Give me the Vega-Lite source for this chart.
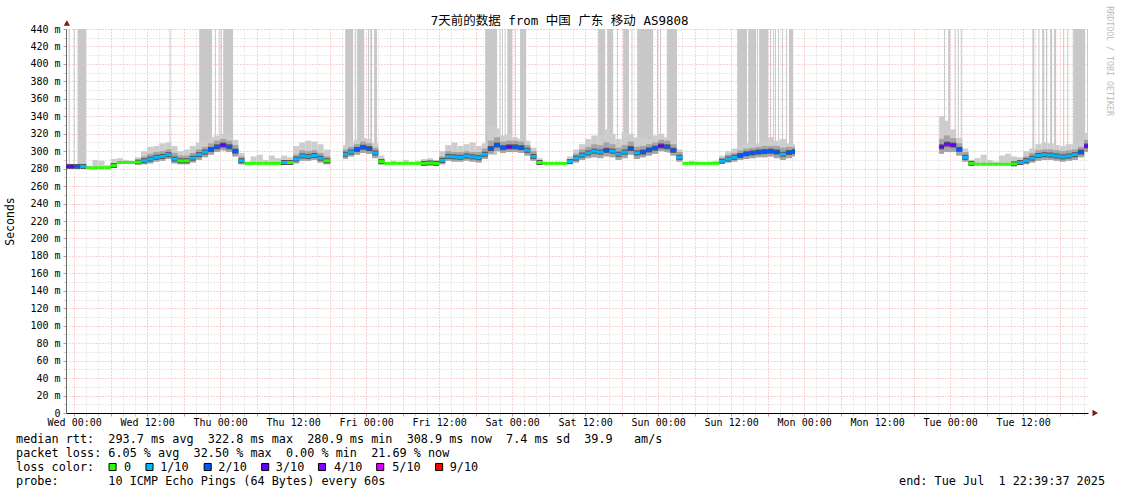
{
  "$schema": "https://vega.github.io/schema/vega-lite/v6.json",
  "background": "white",
  "padding": {"left": 4, "top": 6, "right": 2, "bottom": 2},
  "config": {
    "view": {"stroke": null},
    "font": "DejaVu Sans Mono"
  },
  "title": {"text": "7天前的数据 from 中国 广东 移动 AS9808", "font": "DejaVu Sans Mono, Noto Sans CJK SC", "fontSize": 12.5, "fontWeight": "normal", "color": "#000000", "anchor": "middle", "offset": -21},
  "spacing": 7,
  "datasets": {
    "hourly": [
      {"h":-2,"h2":-1,"med":282.5,"loss":"3/10","lo":281,"hi":284,"mx":285},
      {"h":-1,"h2":0,"med":282.5,"loss":"3/10","lo":281,"hi":284,"mx":285},
      {"h":0,"h2":1,"med":282.5,"loss":"2/10","lo":281,"hi":284,"mx":285},
      {"h":1,"h2":2,"med":282.5,"loss":"1/10","lo":281,"hi":284,"mx":286},
      {"h":2,"h2":3,"med":281,"loss":"0","lo":281,"hi":281,"mx":283},
      {"h":3,"h2":4,"med":281,"loss":"0","lo":281,"hi":281,"mx":290},
      {"h":4,"h2":5,"med":281,"loss":"0","lo":281,"hi":281,"mx":289},
      {"h":5,"h2":6,"med":281,"loss":"0","lo":281,"hi":281,"mx":284},
      {"h":6,"h2":7,"med":283.5,"loss":"0","lo":281,"hi":286,"mx":291},
      {"h":7,"h2":8,"med":287,"loss":"0","lo":287,"hi":287,"mx":292},
      {"h":8,"h2":9,"med":287,"loss":"0","lo":287,"hi":287,"mx":290},
      {"h":9,"h2":10,"med":287,"loss":"0","lo":287,"hi":287,"mx":289},
      {"h":10,"h2":11,"med":287.5,"loss":"0","lo":286,"hi":289,"mx":293},
      {"h":11,"h2":12,"med":289,"loss":"1/10","lo":285,"hi":294,"mx":300},
      {"h":12,"h2":13,"med":291,"loss":"1/10","lo":286,"hi":297,"mx":305},
      {"h":13,"h2":14,"med":293,"loss":"1/10","lo":288,"hi":299,"mx":306},
      {"h":14,"h2":15,"med":294,"loss":"1/10","lo":289,"hi":300,"mx":309},
      {"h":15,"h2":16,"med":296,"loss":"1/10","lo":291,"hi":302,"mx":310},
      {"h":16,"h2":17,"med":291,"loss":"1/10","lo":286,"hi":298,"mx":306},
      {"h":17,"h2":18,"med":289,"loss":"0","lo":285,"hi":295,"mx":300},
      {"h":18,"h2":19,"med":289,"loss":"0","lo":285,"hi":295,"mx":302},
      {"h":19,"h2":20,"med":292,"loss":"1/10","lo":287,"hi":298,"mx":306},
      {"h":20,"h2":21,"med":296,"loss":"1/10","lo":290,"hi":302,"mx":310},
      {"h":21,"h2":22,"med":299,"loss":"1/10","lo":293,"hi":305,"mx":312},
      {"h":22,"h2":23,"med":302,"loss":"2/10","lo":296,"hi":309,"mx":316},
      {"h":23,"h2":24,"med":305,"loss":"2/10","lo":299,"hi":312,"mx":318},
      {"h":24,"h2":25,"med":307,"loss":"3/10","lo":301,"hi":314,"mx":320},
      {"h":25,"h2":26,"med":305,"loss":"2/10","lo":299,"hi":312,"mx":318},
      {"h":26,"h2":27,"med":300,"loss":"2/10","lo":294,"hi":307,"mx":313},
      {"h":27,"h2":28,"med":289,"loss":"1/10","lo":285,"hi":294,"mx":298},
      {"h":28,"h2":29,"med":286,"loss":"0","lo":286,"hi":286,"mx":288},
      {"h":29,"h2":30,"med":286,"loss":"0","lo":286,"hi":286,"mx":294},
      {"h":30,"h2":31,"med":286,"loss":"0","lo":286,"hi":286,"mx":296},
      {"h":31,"h2":32,"med":286,"loss":"0","lo":286,"hi":286,"mx":290},
      {"h":32,"h2":33,"med":286,"loss":"0","lo":286,"hi":286,"mx":295},
      {"h":33,"h2":34,"med":286,"loss":"0","lo":286,"hi":286,"mx":292},
      {"h":34,"h2":35,"med":287,"loss":"1/10","lo":286,"hi":288,"mx":295},
      {"h":35,"h2":36,"med":287,"loss":"0","lo":286,"hi":287,"mx":293},
      {"h":36,"h2":37,"med":291,"loss":"1/10","lo":286,"hi":296,"mx":306},
      {"h":37,"h2":38,"med":294.5,"loss":"1/10","lo":289,"hi":301,"mx":310},
      {"h":38,"h2":39,"med":294,"loss":"1/10","lo":289,"hi":300,"mx":312},
      {"h":39,"h2":40,"med":295,"loss":"1/10","lo":290,"hi":301,"mx":311},
      {"h":40,"h2":41,"med":292,"loss":"1/10","lo":287,"hi":298,"mx":308},
      {"h":41,"h2":42.1,"med":289,"loss":"0","lo":285,"hi":294,"mx":302},
      {"h":44.2,"h2":45,"med":296.5,"loss":"1/10","lo":291,"hi":302,"mx":307},
      {"h":45,"h2":46,"med":299,"loss":"1/10","lo":294,"hi":305,"mx":310},
      {"h":46,"h2":47,"med":302,"loss":"2/10","lo":296,"hi":308,"mx":313},
      {"h":47,"h2":48,"med":304.5,"loss":"2/10","lo":298,"hi":311,"mx":315},
      {"h":48,"h2":49,"med":303,"loss":"2/10","lo":297,"hi":309,"mx":314},
      {"h":49,"h2":50,"med":298,"loss":"1/10","lo":292,"hi":304,"mx":309},
      {"h":50,"h2":51,"med":288,"loss":"0","lo":285,"hi":291,"mx":295},
      {"h":51,"h2":52,"med":286,"loss":"0","lo":286,"hi":286,"mx":287},
      {"h":52,"h2":53,"med":286,"loss":"0","lo":286,"hi":286,"mx":289},
      {"h":53,"h2":54,"med":286,"loss":"0","lo":286,"hi":286,"mx":288},
      {"h":54,"h2":55,"med":286,"loss":"0","lo":286,"hi":286,"mx":290},
      {"h":55,"h2":56,"med":286,"loss":"0","lo":286,"hi":286,"mx":287},
      {"h":56,"h2":57,"med":286,"loss":"0","lo":286,"hi":286,"mx":289},
      {"h":57,"h2":58,"med":286,"loss":"0","lo":286,"hi":287,"mx":291},
      {"h":58,"h2":59,"med":286.5,"loss":"0","lo":286,"hi":288,"mx":292},
      {"h":59,"h2":60,"med":286,"loss":"0","lo":286,"hi":287,"mx":290},
      {"h":60,"h2":61,"med":289.5,"loss":"1/10","lo":285,"hi":294,"mx":300},
      {"h":61,"h2":62,"med":294,"loss":"1/10","lo":289,"hi":300,"mx":307},
      {"h":62,"h2":63,"med":293.5,"loss":"1/10","lo":288,"hi":299,"mx":310},
      {"h":63,"h2":64,"med":293,"loss":"1/10","lo":288,"hi":299,"mx":306},
      {"h":64,"h2":65,"med":294.5,"loss":"1/10","lo":289,"hi":300,"mx":308},
      {"h":65,"h2":66,"med":293.5,"loss":"1/10","lo":288,"hi":299,"mx":310},
      {"h":66,"h2":67,"med":292.5,"loss":"1/10","lo":287,"hi":299,"mx":306},
      {"h":67,"h2":68,"med":296.5,"loss":"1/10","lo":291,"hi":303,"mx":309},
      {"h":68,"h2":69,"med":303,"loss":"2/10","lo":297,"hi":312,"mx":328},
      {"h":69,"h2":70,"med":307,"loss":"2/10","lo":300,"hi":316,"mx":326},
      {"h":70,"h2":71,"med":304,"loss":"2/10","lo":298,"hi":311,"mx":318},
      {"h":71,"h2":72,"med":305,"loss":"3/10","lo":299,"hi":312,"mx":319},
      {"h":72,"h2":73,"med":305,"loss":"2/10","lo":299,"hi":312,"mx":316},
      {"h":73,"h2":74,"med":304,"loss":"2/10","lo":298,"hi":311,"mx":314},
      {"h":74,"h2":75,"med":301,"loss":"1/10","lo":295,"hi":307,"mx":312},
      {"h":75,"h2":76,"med":294,"loss":"1/10","lo":289,"hi":300,"mx":304},
      {"h":76,"h2":77,"med":287,"loss":"0","lo":286,"hi":289,"mx":292},
      {"h":77,"h2":78,"med":286,"loss":"0","lo":286,"hi":286,"mx":288},
      {"h":78,"h2":79,"med":286,"loss":"0","lo":286,"hi":286,"mx":287},
      {"h":79,"h2":80,"med":286,"loss":"0","lo":286,"hi":286,"mx":288},
      {"h":80,"h2":81,"med":286,"loss":"0","lo":286,"hi":286,"mx":287},
      {"h":81,"h2":82,"med":288,"loss":"1/10","lo":286,"hi":291,"mx":294},
      {"h":82,"h2":83,"med":292,"loss":"1/10","lo":287,"hi":297,"mx":302},
      {"h":83,"h2":84,"med":295.5,"loss":"1/10","lo":290,"hi":302,"mx":308},
      {"h":84,"h2":85,"med":298,"loss":"1/10","lo":292,"hi":305,"mx":314},
      {"h":85,"h2":86,"med":300,"loss":"1/10","lo":293,"hi":308,"mx":318},
      {"h":86,"h2":87,"med":299,"loss":"1/10","lo":292,"hi":307,"mx":318},
      {"h":87,"h2":88,"med":301,"loss":"2/10","lo":294,"hi":310,"mx":325},
      {"h":88,"h2":89,"med":300,"loss":"1/10","lo":293,"hi":308,"mx":320},
      {"h":89,"h2":90,"med":296.5,"loss":"1/10","lo":290,"hi":304,"mx":314},
      {"h":90,"h2":91,"med":299,"loss":"1/10","lo":292,"hi":307,"mx":322},
      {"h":91,"h2":92,"med":303,"loss":"2/10","lo":296,"hi":311,"mx":320},
      {"h":92,"h2":93,"med":298,"loss":"1/10","lo":291,"hi":305,"mx":316},
      {"h":93,"h2":94,"med":299,"loss":"2/10","lo":293,"hi":306,"mx":316},
      {"h":94,"h2":95,"med":301.5,"loss":"2/10","lo":295,"hi":308,"mx":314},
      {"h":95,"h2":96,"med":303.5,"loss":"2/10","lo":297,"hi":310,"mx":318},
      {"h":96,"h2":97,"med":306,"loss":"3/10","lo":300,"hi":313,"mx":320},
      {"h":97,"h2":98,"med":305,"loss":"2/10","lo":299,"hi":312,"mx":316},
      {"h":98,"h2":99,"med":301,"loss":"2/10","lo":295,"hi":308,"mx":312},
      {"h":99,"h2":100,"med":293,"loss":"1/10","lo":288,"hi":299,"mx":302},
      {"h":100,"h2":101,"med":286,"loss":"0","lo":286,"hi":286,"mx":287},
      {"h":101,"h2":102,"med":286,"loss":"0","lo":286,"hi":286,"mx":289},
      {"h":102,"h2":103,"med":286,"loss":"0","lo":286,"hi":286,"mx":288},
      {"h":103,"h2":104,"med":286,"loss":"0","lo":286,"hi":286,"mx":287},
      {"h":104,"h2":105,"med":286,"loss":"0","lo":286,"hi":286,"mx":288},
      {"h":105,"h2":106,"med":286,"loss":"0","lo":286,"hi":286,"mx":289},
      {"h":106,"h2":107,"med":288.5,"loss":"1/10","lo":286,"hi":292,"mx":295},
      {"h":107,"h2":108,"med":291,"loss":"1/10","lo":287,"hi":296,"mx":300},
      {"h":108,"h2":109,"med":293,"loss":"1/10","lo":288,"hi":298,"mx":303},
      {"h":109,"h2":110,"med":295,"loss":"2/10","lo":290,"hi":301,"mx":306},
      {"h":110,"h2":111,"med":297,"loss":"2/10","lo":291,"hi":303,"mx":309},
      {"h":111,"h2":112,"med":298,"loss":"2/10","lo":292,"hi":304,"mx":308},
      {"h":112,"h2":113,"med":299,"loss":"2/10","lo":293,"hi":305,"mx":309},
      {"h":113,"h2":114,"med":299.5,"loss":"2/10","lo":293,"hi":306,"mx":312},
      {"h":114,"h2":115,"med":300,"loss":"2/10","lo":294,"hi":306,"mx":316},
      {"h":115,"h2":116,"med":299,"loss":"2/10","lo":292,"hi":306,"mx":312},
      {"h":116,"h2":117,"med":296.5,"loss":"1/10","lo":290,"hi":304,"mx":314},
      {"h":117,"h2":118,"med":298.5,"loss":"2/10","lo":292,"hi":305,"mx":309},
      {"h":118,"h2":118.5,"med":299.5,"loss":"2/10","lo":294,"hi":305,"mx":308},
      {"h":142.2,"h2":143,"med":305,"loss":"3/10","lo":297,"hi":314,"mx":340},
      {"h":143,"h2":144,"med":308,"loss":"4/10","lo":299,"hi":318,"mx":335},
      {"h":144,"h2":145,"med":307,"loss":"3/10","lo":299,"hi":315,"mx":325},
      {"h":145,"h2":146,"med":302,"loss":"2/10","lo":295,"hi":309,"mx":315},
      {"h":146,"h2":147,"med":293,"loss":"1/10","lo":288,"hi":299,"mx":303},
      {"h":147,"h2":148,"med":286,"loss":"0","lo":285,"hi":287,"mx":290},
      {"h":148,"h2":149,"med":285,"loss":"0","lo":285,"hi":285,"mx":292},
      {"h":149,"h2":150,"med":285,"loss":"0","lo":285,"hi":285,"mx":296},
      {"h":150,"h2":151,"med":285,"loss":"0","lo":285,"hi":285,"mx":290},
      {"h":151,"h2":152,"med":285,"loss":"0","lo":285,"hi":285,"mx":288},
      {"h":152,"h2":153,"med":285,"loss":"0","lo":285,"hi":285,"mx":295},
      {"h":153,"h2":154,"med":285,"loss":"0","lo":285,"hi":285,"mx":297},
      {"h":154,"h2":155,"med":285.5,"loss":"0","lo":285,"hi":286,"mx":294},
      {"h":155,"h2":156,"med":287,"loss":"1/10","lo":285,"hi":290,"mx":293},
      {"h":156,"h2":157,"med":289,"loss":"1/10","lo":285,"hi":294,"mx":300},
      {"h":157,"h2":158,"med":292,"loss":"1/10","lo":287,"hi":298,"mx":303},
      {"h":158,"h2":159,"med":295,"loss":"1/10","lo":289,"hi":301,"mx":308},
      {"h":159,"h2":160,"med":296,"loss":"1/10","lo":290,"hi":302,"mx":310},
      {"h":160,"h2":161,"med":295.5,"loss":"1/10","lo":290,"hi":302,"mx":309},
      {"h":161,"h2":162,"med":294.5,"loss":"1/10","lo":289,"hi":301,"mx":307},
      {"h":162,"h2":163,"med":293.5,"loss":"1/10","lo":288,"hi":300,"mx":306},
      {"h":163,"h2":164,"med":294.5,"loss":"1/10","lo":289,"hi":301,"mx":308},
      {"h":164,"h2":165,"med":296,"loss":"1/10","lo":290,"hi":302,"mx":308},
      {"h":165,"h2":166,"med":299,"loss":"2/10","lo":293,"hi":305,"mx":310},
      {"h":166,"h2":166.66,"med":306,"loss":"3/10","lo":299,"hi":313,"mx":321}
    ],
    "tall": [
      {"s":-0.9,"e":-0.73,"lo":282},
      {"s":-0.08,"e":0.08,"lo":282},
      {"s":0.55,"e":1.97,"lo":282},
      {"s":15.67,"e":15.83,"lo":293},
      {"s":20.55,"e":22.68,"lo":298},
      {"s":23.13,"e":23.3,"lo":304},
      {"s":23.75,"e":23.92,"lo":305},
      {"s":24.12,"e":24.28,"lo":306},
      {"s":24.5,"e":26.13,"lo":300},
      {"s":44.55,"e":45.87,"lo":298},
      {"s":46.2,"e":46.37,"lo":302},
      {"s":46.52,"e":47.68,"lo":302},
      {"s":48.3,"e":48.47,"lo":302},
      {"s":48.67,"e":48.98,"lo":300},
      {"s":49.3,"e":49.8,"lo":296},
      {"s":67.57,"e":69.53,"lo":296},
      {"s":69.92,"e":70.08,"lo":302},
      {"s":70.32,"e":70.48,"lo":302},
      {"s":70.77,"e":70.93,"lo":302},
      {"s":71.2,"e":72,"lo":302},
      {"s":72.42,"e":72.58,"lo":302},
      {"s":73.3,"e":74.3,"lo":300},
      {"s":86.13,"e":87.3,"lo":298},
      {"s":87.62,"e":88.6,"lo":298},
      {"s":89.22,"e":89.38,"lo":296},
      {"s":90.25,"e":91.2,"lo":298},
      {"s":91.62,"e":91.78,"lo":298},
      {"s":92.55,"e":95.18,"lo":298},
      {"s":95.8,"e":95.97,"lo":302},
      {"s":96.3,"e":96.47,"lo":304},
      {"s":97.43,"e":99.1,"lo":298},
      {"s":108.98,"e":110.6,"lo":293},
      {"s":110.8,"e":112.12,"lo":295},
      {"s":112.27,"e":112.43,"lo":297},
      {"s":112.6,"e":114.08,"lo":297},
      {"s":114.4,"e":114.57,"lo":297},
      {"s":114.9,"e":115.07,"lo":297},
      {"s":115.22,"e":115.38,"lo":296},
      {"s":115.7,"e":115.87,"lo":296},
      {"s":116.37,"e":116.53,"lo":295},
      {"s":117,"e":117.17,"lo":296},
      {"s":117.5,"e":118.2,"lo":297},
      {"s":143,"e":143.17,"lo":304},
      {"s":143.67,"e":144,"lo":304},
      {"s":144.75,"e":144.92,"lo":304},
      {"s":145.25,"e":145.42,"lo":300},
      {"s":145.75,"e":145.92,"lo":298},
      {"s":157.52,"e":157.83,"lo":290},
      {"s":158.5,"e":158.67,"lo":293},
      {"s":159.13,"e":159.47,"lo":294},
      {"s":159.75,"e":159.92,"lo":294},
      {"s":160.43,"e":160.77,"lo":293},
      {"s":161.08,"e":161.42,"lo":292},
      {"s":162.58,"e":162.75,"lo":292},
      {"s":163.25,"e":163.42,"lo":293},
      {"s":164.22,"e":166.2,"lo":294},
      {"s":166.5,"e":166.65,"lo":300}
    ],
    "arrowx": [{"h":167.85,"v":0}],
    "arrowy": [{"h":-1.2,"v":447}],
    "lines": [
      {"line":1,"col":0,"text":"median rtt:\u00a0\u00a0293.7 ms avg\u00a0\u00a0322.8 ms max\u00a0\u00a0280.9 ms min\u00a0\u00a0308.9 ms now\u00a0\u00a07.4 ms sd\u00a0\u00a039.9\u00a0\u00a0\u00a0am/s"},
      {"line":2,"col":0,"text":"packet loss: 6.05 % avg\u00a0\u00a032.50 % max\u00a0\u00a00.00 % min\u00a0\u00a021.69 % now"},
      {"line":3,"col":0,"text":"loss color:"},
      {"line":3,"col":15.2,"text":"0"},
      {"line":3,"col":20.3,"text":"1/10"},
      {"line":3,"col":28.5,"text":"2/10"},
      {"line":3,"col":36.6,"text":"3/10"},
      {"line":3,"col":44.8,"text":"4/10"},
      {"line":3,"col":53.0,"text":"5/10"},
      {"line":3,"col":61.1,"text":"9/10"},
      {"line":4,"col":0,"text":"probe:\u00a0\u00a0\u00a0\u00a0\u00a0\u00a0\u00a010 ICMP Echo Pings (64 Bytes) every 60s"}
    ],
    "endline": [
      {"line":4,"col":153.4,"text":"end: Tue Jul\u00a0\u00a01 22:39:37 2025"}
    ],
    "swatch": [
      {"line":3,"col":13.6,"loss":"0"},
      {"line":3,"col":18.8,"loss":"1/10"},
      {"line":3,"col":27.0,"loss":"2/10"},
      {"line":3,"col":35.1,"loss":"3/10"},
      {"line":3,"col":43.1,"loss":"4/10"},
      {"line":3,"col":51.3,"loss":"5/10"},
      {"line":3,"col":59.6,"loss":"9/10"}
    ]
  },
  "vconcat": [
    {
      "width": 1022,
      "height": 384,
      "title": {"text": "RRDTOOL / TOBI OETIKER", "orient": "right", "anchor": "start", "fontSize": 8.3, "color": "#bbbbbb", "font": "DejaVu Sans Mono", "fontWeight": "normal", "offset": 8, "dx": -14},
      "layer": [
        {
          "data": {"name": "tall"},
          "mark": {"type": "bar", "color": "#c8c8c8", "clip": true},
          "encoding": {
            "x": {"field": "s", "type": "quantitative",
                  "scale": {"domain": [-1.34, 166.66], "nice": false, "zero": false},
                  "axis": {"orient": "bottom", "title": null, "tickCount": 1000,
                           "values": [0,2,4,6,8,10,12,14,16,18,20,22,24,26,28,30,32,34,36,38,40,42,44,46,48,50,52,54,56,58,60,62,64,66,68,70,72,74,76,78,80,82,84,86,88,90,92,94,96,98,100,102,104,106,108,110,112,114,116,118,120,122,124,126,128,130,132,134,136,138,140,142,144,146,148,150,152,154,156,158,160,162,164,166],
                           "grid": true, "gridDash": [1, 2], "gridWidth": 1,
                           "gridColor": {"condition": {"test": "datum.value % 6 === 0", "value": "#f0a4a4"}, "value": "#d4d4d4"},
                           "ticks": true, "tickSize": 3,
                           "tickColor": {"condition": {"test": "datum.value % 6 === 0", "value": "#e08a8a"}, "value": "#d4d4d4"},
                           "labelExpr": "datum.value % 12 === 0 ? ['Wed','Thu','Fri','Sat','Sun','Mon','Tue'][floor(datum.value / 24)] + (datum.value % 24 === 0 ? ' 00:00' : ' 12:00') : ''",
                           "labelFont": "DejaVu Sans Mono", "labelFontSize": 10, "labelColor": "#000000", "labelPadding": 1,
                           "labelOverlap": false, "labelFlush": false, "labelBound": false,
                           "domain": true, "domainColor": "#000000", "domainWidth": 1}},
            "x2": {"field": "e"},
            "y": {"field": "lo", "type": "quantitative",
                  "scale": {"domain": [0, 440], "nice": false, "zero": true},
                  "axis": {"orient": "left", "title": "Seconds", "titleFont": "DejaVu Sans Mono", "titleFontSize": 11.5, "titleFontWeight": "normal", "titleColor": "#000000", "titlePadding": 14, "tickCount": 1000,
                           "values": [0,10,20,30,40,50,60,70,80,90,100,110,120,130,140,150,160,170,180,190,200,210,220,230,240,250,260,270,280,290,300,310,320,330,340,350,360,370,380,390,400,410,420,430,440],
                           "grid": true, "gridDash": [1, 2], "gridWidth": 1,
                           "gridColor": {"condition": {"test": "datum.value % 20 === 0", "value": "#f0a4a4"}, "value": "#d4d4d4"},
                           "ticks": true, "tickSize": 3,
                           "tickColor": {"condition": {"test": "datum.value % 20 === 0", "value": "#e08a8a"}, "value": "#d4d4d4"},
                           "labelExpr": "datum.value % 20 === 0 ? (datum.value === 0 ? '0\u00a0\u00a0' : datum.value + ' m') : ''",
                           "labelFont": "DejaVu Sans Mono", "labelFontSize": 10, "labelColor": "#000000", "labelPadding": 3,
                           "labelOverlap": false, "labelBound": false,
                           "domain": true, "domainColor": "#6a6a6a", "domainWidth": 1}},
            "y2": {"datum": 440}
          }
        },
        {
          "data": {"name": "hourly"},
          "mark": {"type": "bar", "color": "#cdcdcd", "clip": true},
          "encoding": {
            "x": {"field": "h", "type": "quantitative", "scale": {"domain": [-1.34, 166.66], "nice": false, "zero": false}},
            "x2": {"field": "h2"},
            "y": {"field": "lo", "type": "quantitative", "scale": {"domain": [0, 440], "nice": false, "zero": true}},
            "y2": {"field": "mx"}
          }
        },
        {
          "data": {"name": "hourly"},
          "mark": {"type": "bar", "color": "#a4a4a4", "clip": true},
          "encoding": {
            "x": {"field": "h", "type": "quantitative", "scale": {"domain": [-1.34, 166.66], "nice": false, "zero": false}},
            "x2": {"field": "h2"},
            "y": {"field": "lo", "type": "quantitative", "scale": {"domain": [0, 440], "nice": false, "zero": true}},
            "y2": {"field": "hi"}
          }
        },
        {
          "data": {"name": "hourly"},
          "transform": [{"filter": "datum.hi > datum.lo"}],
          "mark": {"type": "rule", "color": "#555555", "strokeWidth": 5, "clip": true},
          "encoding": {
            "x": {"field": "h", "type": "quantitative", "scale": {"domain": [-1.34, 166.66], "nice": false, "zero": false}},
            "x2": {"field": "h2"},
            "y": {"field": "med", "type": "quantitative", "scale": {"domain": [0, 440], "nice": false, "zero": true}}
          }
        },
        {
          "data": {"name": "hourly"},
          "mark": {"type": "rule", "strokeWidth": 3, "clip": true},
          "encoding": {
            "x": {"field": "h", "type": "quantitative", "scale": {"domain": [-1.34, 166.66], "nice": false, "zero": false}},
            "x2": {"field": "h2"},
            "y": {"field": "med", "type": "quantitative", "scale": {"domain": [0, 440], "nice": false, "zero": true}},
            "color": {"field": "loss", "type": "nominal", "legend": null,
                      "scale": {"domain": ["0","1/10","2/10","3/10","4/10","5/10","9/10"], "range": ["#26ff00","#00b8ff","#0059ff","#5e00ff","#7e00ff","#dd00ff","#ff0000"]}}
          }
        },
        {
          "data": {"name": "arrowx"},
          "mark": {"type": "point", "shape": "triangle-right", "filled": true, "size": 40, "color": "#7a1c1c", "opacity": 1},
          "encoding": {
            "x": {"field": "h", "type": "quantitative", "scale": {"domain": [-1.34, 166.66], "nice": false, "zero": false}},
            "y": {"field": "v", "type": "quantitative", "scale": {"domain": [0, 440], "nice": false, "zero": true}}
          }
        },
        {
          "data": {"name": "arrowy"},
          "mark": {"type": "point", "shape": "triangle-up", "filled": true, "size": 40, "color": "#7a1c1c", "opacity": 1},
          "encoding": {
            "x": {"field": "h", "type": "quantitative", "scale": {"domain": [-1.34, 166.66], "nice": false, "zero": false}},
            "y": {"field": "v", "type": "quantitative", "scale": {"domain": [0, 440], "nice": false, "zero": true}}
          }
        }
      ]
    },
    {
      "width": 1040,
      "height": 42,
      "layer": [
        {
          "data": {"name": "lines"},
          "mark": {"type": "text", "align": "left", "baseline": "middle", "font": "DejaVu Sans Mono", "fontSize": 11.8, "color": "#000000"},
          "encoding": {
            "x": {"field": "col", "type": "quantitative", "scale": {"domain": [7.04, 153.54], "nice": false, "zero": false}, "axis": null},
            "y": {"field": "line", "type": "quantitative", "scale": {"domain": [1, 4], "reverse": true, "nice": false, "zero": false}, "axis": null},
            "text": {"field": "text"}
          }
        },
        {
          "data": {"name": "endline"},
          "mark": {"type": "text", "align": "right", "baseline": "middle", "font": "DejaVu Sans Mono", "fontSize": 11.8, "color": "#000000"},
          "encoding": {
            "x": {"field": "col", "type": "quantitative", "scale": {"domain": [7.04, 153.54], "nice": false, "zero": false}, "axis": null},
            "y": {"field": "line", "type": "quantitative", "scale": {"domain": [1, 4], "reverse": true, "nice": false, "zero": false}, "axis": null},
            "text": {"field": "text"}
          }
        },
        {
          "data": {"name": "swatch"},
          "mark": {"type": "point", "shape": "square", "filled": true, "size": 50, "stroke": "#000000", "strokeWidth": 1, "opacity": 1},
          "encoding": {
            "x": {"field": "col", "type": "quantitative", "scale": {"domain": [7.04, 153.54], "nice": false, "zero": false}, "axis": null},
            "y": {"field": "line", "type": "quantitative", "scale": {"domain": [1, 4], "reverse": true, "nice": false, "zero": false}, "axis": null},
            "fill": {"field": "loss", "type": "nominal", "legend": null,
                     "scale": {"domain": ["0","1/10","2/10","3/10","4/10","5/10","9/10"], "range": ["#26ff00","#00b8ff","#0059ff","#5e00ff","#7e00ff","#dd00ff","#ff0000"]}}
          }
        }
      ]
    }
  ]
}
